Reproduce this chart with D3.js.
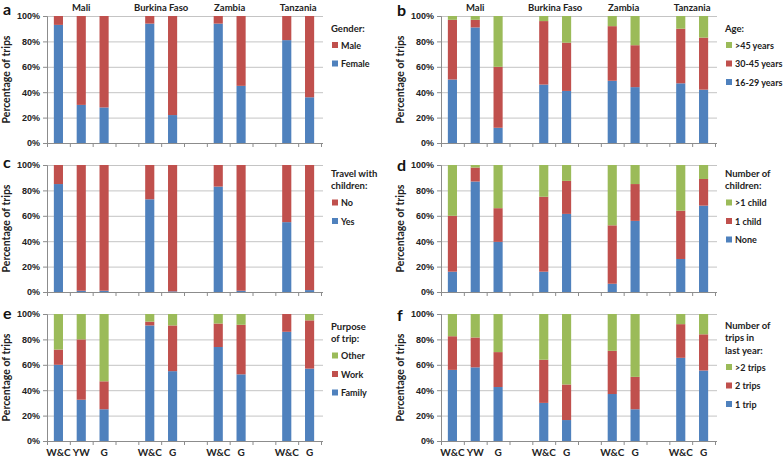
<!DOCTYPE html>
<html>
<head>
<meta charset="utf-8">
<script src="https://cdn.jsdelivr.net/npm/d3@7"></script>
<style>
  body { margin: 0; background: #fff; }
  svg { display: block; font-family: Lato, "Liberation Sans", Arial, sans-serif; font-weight: bold; }
  .grid line { stroke: #c4c4c4; }
  .axis path, .axis line { stroke: #8c8c8c; }
  .axis text { fill: #222; font-size: 9px; font-weight: bold; }
</style>
</head>
<body>
<svg id="chart" width="783" height="458"></svg>
<script>
// 12 slots along the x axis: four country groups separated by empty slots
const slots = ["Mali|W&C", "Mali|YW", "Mali|G", "gap1", "Burkina Faso|W&C", "Burkina Faso|G", "gap2",
    "Zambia|W&C", "Zambia|G", "gap3", "Tanzania|W&C", "Tanzania|G"];
const slotLabels = ["W&C", "YW", "G", "", "W&C", "G", "", "W&C", "G", "", "W&C", "G"];
const bars = ["Mali|W&C", "Mali|YW", "Mali|G", "Burkina Faso|W&C", "Burkina Faso|G",
    "Zambia|W&C", "Zambia|G", "Tanzania|W&C", "Tanzania|G"];
const countries = ["Mali", "Burkina Faso", "Zambia", "Tanzania"];
const yTicks = [0, 20, 40, 60, 80, 100];

// a: gender
const female = [93, 30, 28, 94, 22, 94, 45, 81, 36];
const male = [7, 70, 72, 6, 78, 6, 55, 19, 64];
// b: age
const age1629 = [50, 91, 12, 46, 41, 49, 44, 47, 42];
const age3045 = [47, 6, 48, 50, 38, 43, 33, 43, 41];
const age45 = [3, 3, 40, 4, 21, 8, 23, 10, 17];
// c: travel with children
const withKidsYes = [85, 1, 1, 73, 0.5, 83, 1, 55, 1.5];
const withKidsNo = [15, 99, 99, 27, 99.5, 17, 99, 45, 98.5];
// d: number of children
const kidsNone = [16, 87, 39.5, 16, 61.5, 6.5, 56, 26, 68];
const kidsOne = [44, 11, 26.5, 59, 26, 46, 29, 38, 21];
const kidsMore = [40, 2, 34, 25, 12.5, 47.5, 15, 36, 11];
// e: purpose of trip
const purposeFamily = [60, 32.5, 25, 91, 55, 74, 52.5, 86, 57];
const purposeWork = [12, 47.5, 22, 3, 36, 18.5, 39, 14, 38];
const purposeOther = [28, 20, 53, 6, 9, 7.5, 8.5, 0, 5];
// f: number of trips in last year
const trips1 = [56, 58, 42.5, 30, 16.5, 37, 25, 65.5, 55.5];
const trips2 = [26.5, 23.5, 27.5, 34, 28, 34, 25.5, 26.5, 28.5];
const trips3 = [17.5, 18.5, 30, 36, 55.5, 29, 49.5, 8, 16];

const blue = "#4f81bd", red = "#c0504d", green = "#9bbb59";

const panels = [
    { letter: "a", col: 0, row: 0, letterY: 15, legendY: 28, title: ["Gender:"],
      series: [{ name: "Female", values: female, color: blue }, { name: "Male", values: male, color: red }] },
    { letter: "b", col: 1, row: 0, letterY: 16, legendY: 28, title: ["Age:"],
      series: [{ name: "16-29 years", values: age1629, color: blue }, { name: "30-45 years", values: age3045, color: red },
               { name: ">45 years", values: age45, color: green }] },
    { letter: "c", col: 0, row: 1, letterY: 168, legendY: 173, title: ["Travel with", "children:"],
      series: [{ name: "Yes", values: withKidsYes, color: blue }, { name: "No", values: withKidsNo, color: red }] },
    { letter: "d", col: 1, row: 1, letterY: 171, legendY: 173, title: ["Number of", "children:"],
      series: [{ name: "None", values: kidsNone, color: blue }, { name: "1 child", values: kidsOne, color: red },
               { name: ">1 child", values: kidsMore, color: green }] },
    { letter: "e", col: 0, row: 2, letterY: 319, legendY: 326, title: ["Purpose", "of trip:"],
      series: [{ name: "Family", values: purposeFamily, color: blue }, { name: "Work", values: purposeWork, color: red },
               { name: "Other", values: purposeOther, color: green }] },
    { letter: "f", col: 1, row: 2, letterY: 321, legendY: 325, title: ["Number of", "trips in", "last year:"],
      series: [{ name: "1 trip", values: trips1, color: blue }, { name: "2 trips", values: trips2, color: red },
               { name: ">2 trips", values: trips3, color: green }] }
];

const svg = d3.select("#chart");
const colX = [47, 441];
const rowY = [16, 165, 314];
const plotW = 274, plotH = 127;

panels.forEach(p => {
    const x0 = colX[p.col], y0 = rowY[p.row];
    const g = svg.append("g").attr("transform", `translate(${x0},${y0})`);

    const x = d3.scaleBand().domain(slots).range([0, plotW]).paddingInner(0.6).paddingOuter(0.3);
    const xTick = d3.scaleLinear().domain([0, slots.length]).range([0, plotW]);
    const y = d3.scaleLinear().domain([0, 100]).range([plotH, 0]);

    // gridlines
    g.append("g").attr("class", "grid")
        .selectAll("line").data(yTicks.slice(1)).join("line")
        .attr("x1", 0).attr("x2", plotW + 2)
        .attr("y1", d => y(d) + 0.5).attr("y2", d => y(d) + 0.5);

    // stacked bars
    const rows = bars.map((b, i) => {
        const r = { key: b };
        p.series.forEach(s => { r[s.name] = s.values[i]; });
        return r;
    });
    const stack = d3.stack().keys(p.series.map(s => s.name))(rows);
    g.append("g").selectAll("g").data(stack).join("g")
        .attr("fill", (d, i) => p.series[i].color)
        .selectAll("rect").data(d => d).join("rect")
        .attr("x", d => x(d.data.key))
        .attr("width", x.bandwidth())
        .attr("y", d => y(d[1]))
        .attr("height", d => y(d[0]) - y(d[1]));

    // y axis
    g.append("g").attr("class", "axis")
        .call(d3.axisLeft(y).tickValues(yTicks).tickFormat(d => d + "%").tickSize(4).tickPadding(3))
        .call(a => a.select(".domain").attr("d", `M-4,0.5H0.5V${plotH}`));

    // x axis: ticks at slot boundaries
    const xa = g.append("g").attr("class", "axis").attr("transform", `translate(0,${plotH})`)
        .call(d3.axisBottom(xTick).tickValues(d3.range(slots.length + 1)).tickFormat("").tickSize(4).tickSizeOuter(0));
    xa.select(".domain").attr("d", `M0,0.5H${plotW + 2}`);

    // category labels on bottom row
    if (p.row === 2) {
        g.append("g").selectAll("text").data(slots).join("text")
            .attr("x", d => x(d) + x.bandwidth() / 2)
            .attr("y", plotH + 15)
            .attr("text-anchor", "middle")
            .attr("font-size", 10).attr("fill", "#222")
            .text((d, i) => slotLabels[i]);
    }

    // country labels on top row
    if (p.row === 0) {
        g.append("g").selectAll("text").data(countries).join("text")
            .attr("x", c => {
                const s = slots.filter(k => k.startsWith(c + "|"));
                return (x(s[0]) + x(s[s.length - 1]) + x.bandwidth()) / 2;
            })
            .attr("y", -5)
            .attr("text-anchor", "middle")
            .attr("font-size", 9.5).attr("fill", "#222")
            .text(c => c);
    }

    // axis title
    svg.append("text")
        .attr("transform", `translate(${x0 - 37},${y0 + plotH / 2}) rotate(-90)`)
        .attr("text-anchor", "middle").attr("font-size", 10.5).attr("fill", "#222")
        .text("Percentage of trips");

    // panel letter
    svg.append("text")
        .attr("x", x0 - 44).attr("y", p.letterY)
        .attr("font-size", 16).attr("fill", "#111")
        .text(p.letter);

    // legend
    const lx = x0 + plotW + 10;
    const lg = svg.append("g").attr("transform", `translate(${lx},${p.legendY})`);
    lg.selectAll(".lt").data(p.title).join("text")
        .attr("class", "lt")
        .attr("y", (d, i) => i * 12.5 + 3.5)
        .attr("font-size", 9.5).attr("fill", "#222")
        .text(d => d);
    const firstItem = (p.title.length - 1) * 12.5 + 17;
    const items = p.series.slice().reverse();
    const li = lg.selectAll(".li").data(items).join("g")
        .attr("class", "li")
        .attr("transform", (d, i) => `translate(0,${firstItem + i * 18.5})`);
    li.append("rect").attr("x", 1).attr("y", -3).attr("width", 6).attr("height", 6)
        .attr("fill", d => d.color);
    li.append("text").attr("x", 10).attr("y", 3.5)
        .attr("font-size", 9).attr("fill", "#222")
        .text(d => d.name);
});
</script>
</body>
</html>
